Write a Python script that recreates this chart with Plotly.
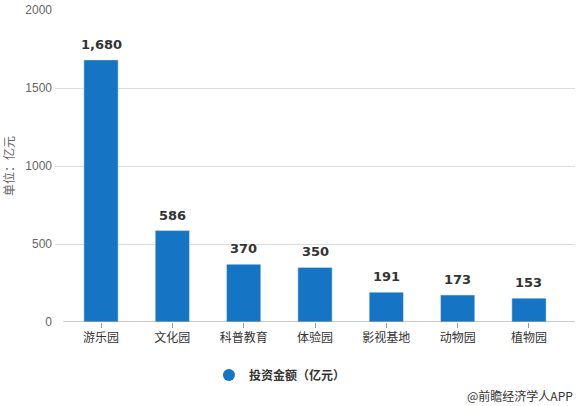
import plotly.graph_objects as go

categories = ["游乐园", "文化园", "科普教育", "体验园", "影视基地", "动物园", "植物园"]
values = [1680, 586, 370, 350, 191, 173, 153]
value_labels = ["1,680", "586", "370", "350", "191", "173", "153"]
y_ticks = [0, 500, 1000, 1500, 2000]
series_name = "投资金额（亿元）"

BAR = "#1574c4"
CJK = "Noto Sans CJK SC"

fig = go.Figure()
fig.add_trace(go.Bar(x=categories, y=values, marker_color=BAR, width=0.48,
                     showlegend=False, hoverinfo="skip"))
fig.add_trace(go.Scatter(x=[categories[0]], y=[None], mode="markers",
                         marker=dict(symbol="circle", size=13, color=BAR),
                         name=series_name, showlegend=True))

for c, v, t in zip(categories, values, value_labels):
    fig.add_annotation(x=c, y=v, text=t, showarrow=False, yanchor="bottom",
                       yshift=6, font=dict(family="DejaVu Sans", size=13,
                                           color="#333333", weight="bold"))

fig.add_annotation(xref="paper", yref="paper", x=1.0, y=-0.234, xanchor="right",
                   yanchor="middle", text="@前瞻经济学人APP", showarrow=False,
                   font=dict(family=CJK, size=12, color="#333333"))

fig.add_shape(type="line", xref="x", yref="y", x0=-0.53, x1=6.645, y0=0, y1=0,
              line=dict(color="#999999", width=1))

fig.update_layout(
    width=580, height=406,
    margin=dict(l=55, r=5, t=10, b=84, autoexpand=False),
    paper_bgcolor="white", plot_bgcolor="white",
    font=dict(family=CJK, size=12, color="#333333"),
    xaxis=dict(type="category", range=[-0.645, 6.645], showgrid=False,
               ticks="outside", ticklen=5, tickcolor="#999999",
               tickfont=dict(family=CJK, size=12, color="#333333"),
               showline=False, zeroline=False, fixedrange=True, automargin=False),
    yaxis=dict(range=[0, 2000], tickvals=y_ticks, showgrid=True,
               gridcolor="#dddddd", gridwidth=1, zeroline=False, showline=False,
               automargin=False, ticklabelstandoff=2,
               tickfont=dict(family="Liberation Sans", size=12, color="#666666"),
               title=dict(text="单位：亿元", font=dict(family=CJK, size=12, color="#666666"),
                          standoff=8)),
    legend=dict(orientation="h", x=0.296, y=-0.17, xanchor="left", yanchor="middle",
                font=dict(family=CJK, size=12, color="#333333", weight="bold"),
                itemsizing="constant"),
)

fig.write_html("out.html", config={"displayModeBar": False},
               post_script="document.body.style.margin='0';document.body.style.overflow='hidden';")
